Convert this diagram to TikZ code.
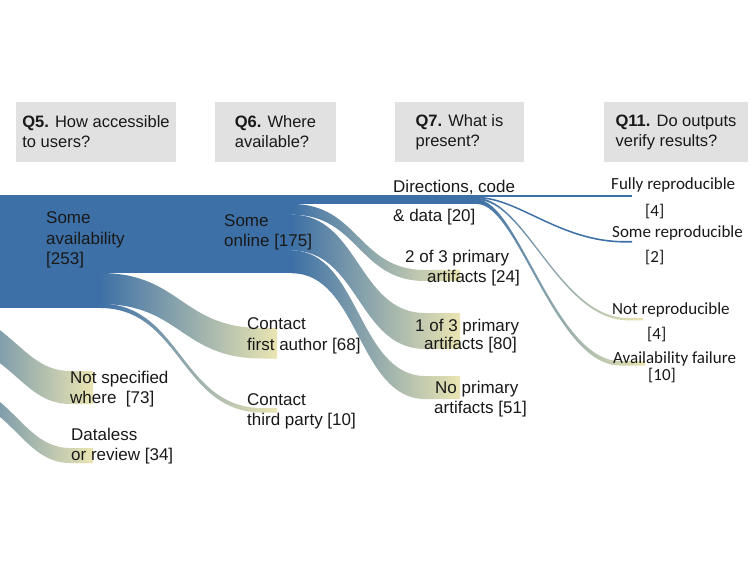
\documentclass[tikz,border=0pt]{standalone}
\usepackage{fontspec}
\setmainfont{Liberation Sans}
\newfontfamily\calib{Carlito}
\definecolor{sblue}{RGB}{61,112,166}
\definecolor{syel}{RGB}{234,229,178}
\definecolor{hdr}{RGB}{225,225,225}
\definecolor{txt}{RGB}{25,25,25}
\newcommand\mlines[1]{\begin{tabular}[t]{@{}l@{}}#1\end{tabular}}
% symmetric sankey band: x0, ytop0, ybot0, x1, ytop1, ybot1, xend, colour0, colour1
\newcommand\sflow[9]{%
  \shade[left color=#8, right color=#9]
    (#1,#2) .. controls ({(#1+#4)/2},#2) and ({(#1+#4)/2},#5) .. (#4,#5)
    -- (#7,#5) -- (#7,#6) -- (#4,#6)
    .. controls ({(#1+#4)/2},#6) and ({(#1+#4)/2},#3) .. (#1,#3) -- cycle;}
\begin{document}
\begin{tikzpicture}[x=1pt,y=-1pt,
  hdrbox/.style={fill=hdr, inner sep=0pt, align=left, text=txt,
    font=\fontsize{16.5}{20}\selectfont, minimum height=60pt},
  lab/.style={anchor=base west, inner sep=0pt, text=txt,
    font=\fontsize{17}{20.5}\selectfont},
  clab/.style={anchor=base west, inner sep=0pt, text=txt,
    font=\calib\fontsize{17}{17}\selectfont}]
\useasboundingbox (0,0) rectangle (756,567);
\fill[white] (0,0) rectangle (756,567);

% ---- header boxes
\node[hdrbox, minimum width=160pt] (q5) at (96,132) {\textbf{Q5.} How accessible\\to users?};
\node[hdrbox, minimum width=121pt] (q6) at (275.5,132) {\textbf{Q6.} Where\\available?};
\node[hdrbox, minimum width=129pt] (q7) at (459.5,132) {\textbf{Q7.} What is\\present?};
\node[hdrbox, minimum width=144pt] (q11) at (676,132) {\textbf{Q11.} Do outputs\\verify results?};

% ---- flows entering from the left edge
\shade[left color=sblue, right color=syel]
  (-60,310) .. controls (10,310) and (20,371) .. (70,371) -- (93,371) -- (93,404) -- (70,404)
  .. controls (20,404) and (10,343) .. (-60,343) -- cycle;
\shade[left color=sblue, right color=syel]
  (-60,379) .. controls (10,379) and (20,448) .. (70,448) -- (93,448) -- (93,463) -- (70,463)
  .. controls (20,463) and (10,394) .. (-60,394) -- cycle;

% ---- solid blue nodes / through-bands
\fill[sblue] (0,195) rectangle (292,273.3);
\fill[sblue] (0,273) rectangle (100.5,308);
\fill[sblue] (291.5,195) rectangle (478.5,204);

% ---- Q5 -> Q6
\sflow{100}{273}{304}{262}{328}{358.5}{277}{sblue}{syel}
\sflow{100}{303.6}{308}{262}{408}{412.5}{277}{sblue}{syel}

% ---- Q6 -> Q7
\sflow{292}{204}{214.7}{425}{270}{281}{460}{sblue}{syel}
\sflow{292}{214.7}{250.5}{425}{313}{349}{460}{sblue}{syel}
\sflow{292}{250.5}{273.3}{425}{376}{399}{460}{sblue}{syel}

% ---- Q7 -> Q11
\fill[sblue] (477,195) rectangle (632,197);
\fill[sblue]
  (477,196.8) .. controls (518,196.8) and (560,241) .. (625,241) -- (632,241) -- (632,242.6) -- (625,242.6)
  .. controls (560,242.6) and (518,198.4) .. (477,198.4) -- cycle;
\shade[left color=sblue, right color=syel]
  (477,198) .. controls (525,198) and (560,318) .. (628,318) -- (643,318) -- (643,320.3) -- (628,320.3)
  .. controls (560,320.3) and (525,200) .. (477,200) -- cycle;
\shade[left color=sblue, right color=syel]
  (477,199.5) .. controls (518,199.5) and (555,361) .. (620,361) -- (645,361) -- (645,365.5) -- (620,365.5)
  .. controls (555,365.5) and (518,204) .. (477,204) -- cycle;

% ---- labels
\node[lab] (lavail) at (46,224) {\mlines{Some\\availability\\{}[253]}};
\node[lab] (lnotspec) at (70,383) {\mlines{Not specified\\where\ \ [73]}};
\node[lab] (ldataless) at (71,440) {\mlines{Dataless\\or review [34]}};
\node[lab] (lonline) at (224,226) {\mlines{Some\\online [175]}};
\node[lab] (lfirst) at (247,330) {\mlines{Contact\\first author [68]}};
\node[lab] (lthird) at (247,405) {\mlines{Contact\\third party [10]}};
\node[lab] (ldir) at (393,193) {\mlines{Directions, code\\[8.5pt]\& data [20]}};
\node[lab] (ltwo) at (405,262) {\mlines{2 of 3 primary\\\hspace*{22pt}artifacts [24]}};
\node[lab] (lone) at (415,331) {\mlines{1 of 3 primary\\[-2pt]\hspace*{9pt}artifacts [80]}};
\node[lab] (lnone) at (435,393) {\mlines{No primary\\\hspace*{-1pt}artifacts [51]}};
\node[clab] (lfully) at (611,190) {\mlines{Fully reproducible\\[9pt]\hspace*{34pt}[4]}};
\node[clab] (lsomer) at (612,238) {\mlines{Some reproducible\\[7pt]\hspace*{33pt}[2]}};
\node[clab] (lnotr) at (612,315) {\mlines{Not reproducible\\[7pt]\hspace*{35pt}[4]}};
\node[clab] (lavf) at (613,363) {\mlines{Availability failure\\\hspace*{35pt}[10]}};
\end{tikzpicture}
\end{document}
